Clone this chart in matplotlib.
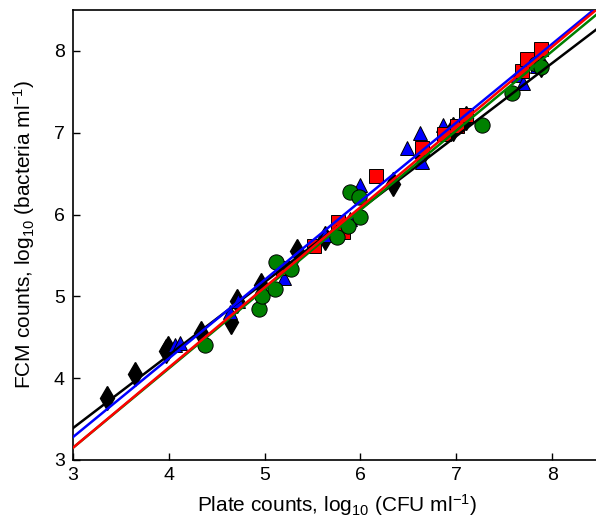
import numpy as np
import matplotlib
matplotlib.use('Agg')
import matplotlib.pyplot as plt

plt.rcParams['font.family'] = ['Liberation Sans', 'DejaVu Sans']
plt.rcParams['mathtext.fontset'] = 'custom'
plt.rcParams['mathtext.rm'] = 'Liberation Sans'
plt.rcParams['mathtext.it'] = 'Liberation Sans:italic'

# black diamonds
diam_x = [3.35, 3.65, 3.97, 3.99, 4.34, 4.65, 4.71, 4.96, 5.34, 5.63, 6.34, 6.63, 6.97, 7.10, 7.88]
diam_y = [3.76, 4.05, 4.33, 4.37, 4.55, 4.69, 4.94, 5.14, 5.55, 5.71, 6.37, 6.72, 7.04, 7.18, 7.83]

# blue triangles
tri_x = [4.06, 4.12, 4.38, 4.64, 4.72, 5.20, 5.63, 5.89, 6.00, 6.49, 6.62, 6.64, 6.86, 7.64, 7.70, 7.84]
tri_y = [4.41, 4.43, 4.47, 4.81, 4.94, 5.22, 5.75, 5.94, 6.36, 6.81, 7.00, 6.64, 7.10, 7.71, 7.61, 7.81]

# red squares
sq_x = [5.19, 5.51, 5.77, 5.82, 6.16, 6.64, 6.87, 7.01, 7.10, 7.69, 7.74, 7.88]
sq_y = [5.35, 5.61, 5.91, 5.79, 6.47, 6.81, 6.98, 7.08, 7.22, 7.75, 7.90, 8.02]

# green circles
circ_x = [4.38, 4.94, 4.97, 5.11, 5.12, 5.27, 5.76, 5.87, 5.89, 5.98, 6.00, 7.27, 7.58, 7.83, 7.88]
circ_y = [4.41, 4.85, 5.00, 5.09, 5.42, 5.33, 5.73, 5.86, 6.27, 6.22, 5.97, 7.09, 7.49, 7.84, 7.80]

# fitted lines: (value at x=3, slope)
fits = {
    'black': (3.39, 0.892),
    'blue': (3.28, 0.961),
    'green': (3.15, 0.969),
    'red': (3.15, 0.980),
}

fig = plt.figure(figsize=(5.96, 5.22), dpi=100)
ax = fig.add_axes([73 / 596, 62 / 522, 527 / 596, 450 / 522])

ax.plot(diam_x, diam_y, 'd', color='black', mec='black', ms=12, zorder=2)
ax.plot(tri_x, tri_y, '^', color='blue', mec='black', mew=0.7, ms=10, zorder=2)
ax.plot(sq_x, sq_y, 's', color='red', mec='black', mew=0.7, ms=10, zorder=2)
ax.plot(circ_x, circ_y, 'o', color='green', mec='black', mew=0.7, ms=11, zorder=2)

xx = np.array([3.0, 8.6])
for col, (b, m) in fits.items():
    ax.plot(xx, b + m * (xx - 3), color=col, lw=1.8, zorder=3)

ax.set_xlim(3, 8.5)
ax.set_ylim(3, 8.5)
ax.set_xticks([3, 4, 5, 6, 7, 8])
ax.set_yticks([3, 4, 5, 6, 7, 8])
ax.tick_params(direction='in', labelsize=14, length=5, width=1)
ax.tick_params(axis='x', pad=5)
ax.tick_params(axis='y', pad=6)
for s in ax.spines.values():
    s.set_linewidth(1.2)

ax.set_xlabel(r'Plate counts, log$_{10}$ (CFU ml$^{-1}$)', fontsize=15, labelpad=6)
ax.set_ylabel(r'FCM counts, log$_{10}$ (bacteria ml$^{-1}$)', fontsize=15, labelpad=12)

fig.savefig('out.png', dpi=100)
